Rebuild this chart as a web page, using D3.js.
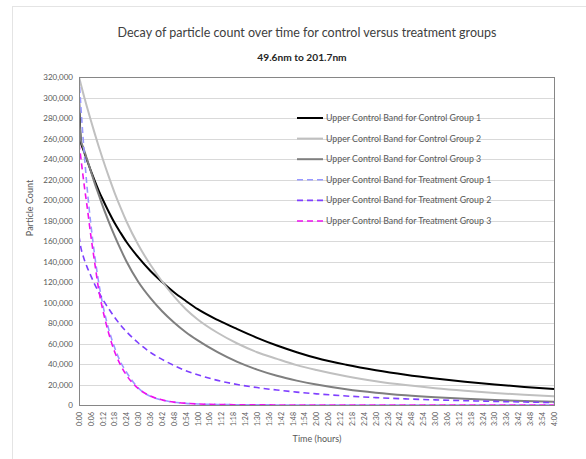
<!DOCTYPE html>
<html>
<head>
<meta charset="utf-8">
<script src="https://cdn.jsdelivr.net/npm/d3@7/dist/d3.min.js"></script>
<style>
  html, body { margin: 0; padding: 0; background: #fff; }
  svg { display: block; font-family: Lato, "Open Sans", sans-serif; }
</style>
</head>
<body>
<svg id="chart" width="586" height="459"></svg>
<script>
// Sample times (minutes since start)
const minutes = [0,1,2,3,4,6,8,10,12,15,18,21,24,30,36,42,48,54,60,70,80,90,100,110,120,135,150,165,180,195,210,225,240];

// Upper control band values per group (particle counts)
const control1 = [300000,256000,250000,244500,239000,228500,218500,209000,200500,188500,177500,168000,159000,144000,131000,120000,110000,101500,93500,83000,74000,65500,58000,51500,45800,39300,34000,29600,25900,22700,20000,17600,15500];
const control2 = [320000,312500,305000,298000,291000,277500,264500,252000,240000,223000,207000,192500,179000,156000,137000,120500,106000,93500,83500,70500,60000,51500,45000,38900,34100,28000,23200,19400,16300,13800,11700,10000,8600];
const control3 = [285000,258000,252000,246000,240000,228000,216000,205000,194000,179000,165000,152000,140000,120000,104500,91500,80500,71000,63000,51500,42000,34500,28500,23800,19900,15300,11900,9400,7500,6000,4900,4000,3200];
const treatment1 = [320000,290000,262000,237000,214000,176000,145000,119000,98000,74000,56000,42000,32000,16500,8500,4800,2700,1600,1000,500,250,120,60,30,15,0,0,0,0,0,0,0,0];
const treatment2 = [165000,153000,146000,140000,135000,126000,117500,110000,103000,94000,85500,78000,71500,60500,51500,44500,38500,33500,29500,24000,20000,17000,14600,12600,10900,8800,7200,6000,5000,4200,3500,2900,2400];
const treatment3 = [255000,240000,224000,209000,195000,165000,138000,112000,93000,70000,52000,39000,29000,16000,8800,5000,2800,1700,1000,500,250,120,60,30,15,0,0,0,0,0,0,0,0];

const seriesNames = [
  "Upper Control Band for Control Group 1",
  "Upper Control Band for Control Group 2",
  "Upper Control Band for Control Group 3",
  "Upper Control Band for Treatment Group 1",
  "Upper Control Band for Treatment Group 2",
  "Upper Control Band for Treatment Group 3"
];
const seriesValues = [control1, control2, control3, treatment1, treatment2, treatment3];
const seriesColors = ["#000000", "#c0c0c0", "#7f7f7f", "#9999ff", "#7f3fff", "#ee11ee"];
const seriesDashed = [false, false, false, true, true, true];

// Axis labels
const timeLabels = ["0:00","0:06","0:12","0:18","0:24","0:30","0:36","0:42","0:48","0:54",
  "1:00","1:06","1:12","1:18","1:24","1:30","1:36","1:42","1:48","1:54",
  "2:00","2:06","2:12","2:18","2:24","2:30","2:36","2:42","2:48","2:54",
  "3:00","3:06","3:12","3:18","3:24","3:30","3:36","3:42","3:48","3:54","4:00"];
const yTicks = [0,20000,40000,60000,80000,100000,120000,140000,160000,180000,200000,220000,240000,260000,280000,300000,320000];

const svg = d3.select("#chart");
const W = 586, H = 459;
const plot = { left: 79, right: 554, top: 77, bottom: 405 };

svg.append("rect").attr("width", W).attr("height", H).attr("fill", "#fff");
// outer chart frame
svg.append("rect").attr("x", 12.5).attr("y", 6.5).attr("width", 600).attr("height", 500)
  .attr("fill", "none").attr("stroke", "#e4e4e4").attr("stroke-width", 1);

const x = d3.scaleLinear().domain([0, 240]).range([plot.left, plot.right]);
const y = d3.scaleLinear().domain([0, 320000]).range([plot.bottom, plot.top]);

// horizontal gridlines
svg.append("g").selectAll("line").data(yTicks).join("line")
  .attr("x1", plot.left).attr("x2", plot.right)
  .attr("y1", d => Math.round(y(d)) + 0.5).attr("y2", d => Math.round(y(d)) + 0.5)
  .attr("stroke", "#d9d9d9").attr("stroke-width", 1);

// y axis labels
const yAxis = d3.axisLeft(y).tickValues(yTicks).tickSize(0).tickPadding(6)
  .tickFormat(d3.format(","));
const gy = svg.append("g").attr("transform", `translate(${plot.left},0)`).call(yAxis);
gy.select(".domain").remove();
gy.selectAll("text").attr("fill", "#595959").style("font-size", "8px")
  .style("font-family", "Lato, sans-serif");

// x axis labels (rotated)
const xAxis = d3.axisBottom(x).tickValues(d3.range(0, 241, 6)).tickSize(0).tickPadding(0)
  .tickFormat((d, i) => timeLabels[i]);
const gx = svg.append("g").attr("transform", `translate(0,${plot.bottom})`).call(xAxis);
gx.select(".domain").remove();
gx.selectAll("text")
  .attr("fill", "#595959").style("font-size", "7px").style("font-family", "Lato, sans-serif")
  .attr("transform", "rotate(-90)")
  .attr("text-anchor", "end").attr("x", -7).attr("y", 0).attr("dy", "0.32em");

// series lines
const line = d3.line()
  .x((d, i) => x(minutes[i]))
  .y(d => y(d))
  .curve(d3.curveMonotoneX);

svg.append("clipPath").attr("id", "plotclip").append("rect")
  .attr("x", plot.left).attr("y", plot.top - 1)
  .attr("width", plot.right - plot.left).attr("height", plot.bottom - plot.top + 1);

const gLines = svg.append("g").attr("clip-path", "url(#plotclip)");
seriesValues.forEach((vals, k) => {
  gLines.append("path")
    .datum(vals)
    .attr("d", line)
    .attr("fill", "none")
    .attr("stroke", seriesColors[k])
    .attr("stroke-width", seriesDashed[k] ? 1.6 : 2)
    .attr("stroke-dasharray", seriesDashed[k] ? "6,4" : null)
    .attr("stroke-linejoin", "round");
});

// plot border
svg.append("rect")
  .attr("x", plot.left + 0.5).attr("y", plot.top + 0.5)
  .attr("width", plot.right - plot.left).attr("height", plot.bottom - plot.top)
  .attr("fill", "none").attr("stroke", "#868686").attr("stroke-width", 1);

// legend
const legend = svg.append("g");
seriesNames.forEach((name, k) => {
  const ly = 118 + k * 20.6;
  legend.append("line")
    .attr("x1", 297).attr("x2", 323).attr("y1", ly).attr("y2", ly)
    .attr("stroke", seriesColors[k])
    .attr("stroke-width", seriesDashed[k] ? 1.6 : 2)
    .attr("stroke-dasharray", seriesDashed[k] ? "6,4" : null);
  legend.append("text")
    .attr("x", 326).attr("y", ly).attr("dy", "0.35em")
    .attr("fill", "#595959").style("font-size", "8.8px")
    .text(name);
});

// titles
svg.append("text").attr("x", 307).attr("y", 37).attr("text-anchor", "middle")
  .attr("fill", "#404040").style("font-size", "12.5px")
  .text("Decay of particle count over time for control versus treatment groups");
svg.append("text").attr("x", 302).attr("y", 61).attr("text-anchor", "middle")
  .attr("fill", "#262626").style("font-size", "10.2px").style("font-weight", "bold")
  .text("49.6nm to 201.7nm");

// axis titles
svg.append("text").attr("transform", "translate(33,208) rotate(-90)")
  .attr("text-anchor", "middle").attr("fill", "#595959").style("font-size", "9px")
  .text("Particle Count");
svg.append("text").attr("x", 317).attr("y", 442).attr("text-anchor", "middle")
  .attr("fill", "#595959").style("font-size", "9px")
  .text("Time (hours)");
</script>
</body>
</html>
